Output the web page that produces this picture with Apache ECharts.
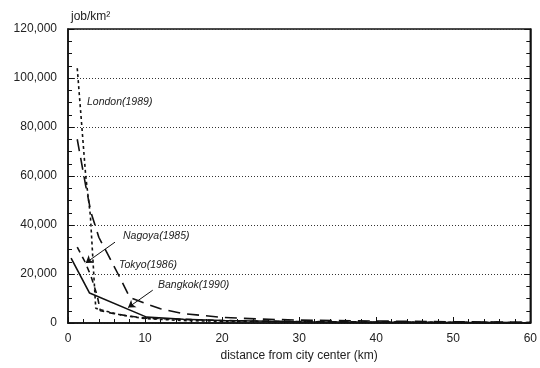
<!DOCTYPE html>
<html><head><meta charset="utf-8">
<script src="https://cdn.jsdelivr.net/npm/echarts@6/dist/echarts.min.js"></script>
<style>html,body{margin:0;padding:0;background:#fff}#c{width:540px;height:368px}</style>
</head><body><div id="c"></div>
<script>
var xTicks = [0, 10, 20, 30, 40, 50, 60];
var yTicks = [0, 20000, 40000, 60000, 80000, 100000, 120000];

var londonX = [1.2, 2.3, 2.9, 3.6, 5, 7, 10, 15, 20, 30, 40, 50, 60];
var londonY = [104000, 60000, 44000, 6000, 4800, 3200, 1800, 1000, 700, 500, 400, 300, 200];

var tokyoX = [1.2, 2.3, 3, 4, 5, 6.5, 8, 10, 12, 15, 20, 25, 30, 40, 50, 60];
var tokyoY = [75000, 56000, 45000, 35000, 29000, 20000, 10500, 8000, 5800, 3800, 2300, 1600, 1200, 800, 500, 300];

var nagoyaX = [1.2, 2.2, 3, 3.8, 4.2, 6, 8, 10, 15, 20, 30, 40, 60];
var nagoyaY = [31000, 25000, 19000, 11000, 5000, 3800, 2800, 2000, 1500, 1000, 600, 400, 200];

var bangkokX = [0.4, 2.8, 10.2, 15, 20, 30, 40, 50, 60];
var bangkokY = [26500, 12200, 2400, 1500, 1000, 500, 300, 200, 100];

var seriesNames = ['London(1989)', 'Nagoya(1985)', 'Tokyo(1986)', 'Bangkok(1990)'];

function pairs(xs, ys) { return xs.map(function (x, i) { return [x, ys[i]]; }); }

var chart = echarts.init(document.getElementById('c'));
var font = 'Liberation Sans, Arial, sans-serif';
var axisCommon = {
  axisLine: { show: true, lineStyle: { color: '#111', width: 1.5 } },
  axisTick: { show: true, inside: true, length: 6, lineStyle: { color: '#111' } }
};
chart.setOption({
  animation: false,
  backgroundColor: '#fff',
  grid: { left: 68, right: 7, top: 29, bottom: 45, show: true, borderColor: '#111', borderWidth: 1.5 },
  xAxis: Object.assign({
    type: 'value', min: xTicks[0], max: xTicks[xTicks.length - 1], interval: 10,
    name: 'distance from city center (km)', nameLocation: 'middle', nameGap: 24,
    nameTextStyle: { fontFamily: font, fontSize: 12, color: '#222' },
    axisLabel: { fontFamily: font, fontSize: 12, color: '#222', margin: 10 },
    splitLine: { show: false }
  }, axisCommon, { minorTick: { show: true, splitNumber: 5, length: 4, lineStyle: { color: '#111' } } }),
  yAxis: [
    Object.assign({
      type: 'value', min: yTicks[0], max: yTicks[yTicks.length - 1], interval: 20000,
      name: 'job/km²', nameLocation: 'end', nameGap: 6,
      nameTextStyle: { fontFamily: font, fontSize: 12, color: '#222', align: 'left', padding: [0, 0, 0, 3] },
      axisLabel: { fontFamily: font, fontSize: 12, color: '#222', margin: 11,
        formatter: function (v) { return v.toLocaleString('en-US'); } },
      splitLine: { show: true, lineStyle: { color: '#333', type: [1, 2], width: 1 } }
    }, axisCommon, { minorTick: { show: true, splitNumber: 4, length: 4, lineStyle: { color: '#111' } } }),
    Object.assign({
      type: 'value', position: 'right', min: 0, max: 120000, interval: 20000,
      axisLabel: { show: false }, splitLine: { show: false }
    }, axisCommon, { minorTick: { show: true, splitNumber: 4, length: 4, lineStyle: { color: '#111' } } })
  ],
  series: [
    { name: seriesNames[0], type: 'line', symbol: 'none', data: pairs(londonX, londonY),
      lineStyle: { color: '#111', width: 1.6, type: [3, 3] } },
    { name: seriesNames[1], type: 'line', symbol: 'none', data: pairs(nagoyaX, nagoyaY),
      lineStyle: { color: '#111', width: 1.6, type: [6, 5] },
      markLine: { silent: true, symbol: ['none', 'arrow'], symbolSize: 7,
        lineStyle: { color: '#111', type: 'solid', width: 1 }, label: { show: false },
        data: [[{ coord: [6.1, 33000] }, { coord: [2.3, 24500] }]] } },
    { name: seriesNames[2], type: 'line', symbol: 'none', data: pairs(tokyoX, tokyoY),
      lineStyle: { color: '#111', width: 1.6, type: [12, 7] } },
    { name: seriesNames[3], type: 'line', symbol: 'none', data: pairs(bangkokX, bangkokY),
      lineStyle: { color: '#111', width: 1.6, type: 'solid' },
      markLine: { silent: true, symbol: ['none', 'arrow'], symbolSize: 7,
        lineStyle: { color: '#111', type: 'solid', width: 1 }, label: { show: false },
        data: [[{ coord: [11, 13400] }, { coord: [7.8, 6300] }]] } }
  ],
  graphic: [
    { type: 'text', left: 87, top: 97, style: { text: seriesNames[0], font: 'italic 10.5px ' + font, fill: '#222' } },
    { type: 'text', left: 123, top: 231, style: { text: seriesNames[1], font: 'italic 10.5px ' + font, fill: '#222' } },
    { type: 'text', left: 119, top: 260, style: { text: seriesNames[2], font: 'italic 10.5px ' + font, fill: '#222' } },
    { type: 'text', left: 158, top: 280, style: { text: seriesNames[3], font: 'italic 10.5px ' + font, fill: '#222' } }
  ]
});
</script></body></html>
